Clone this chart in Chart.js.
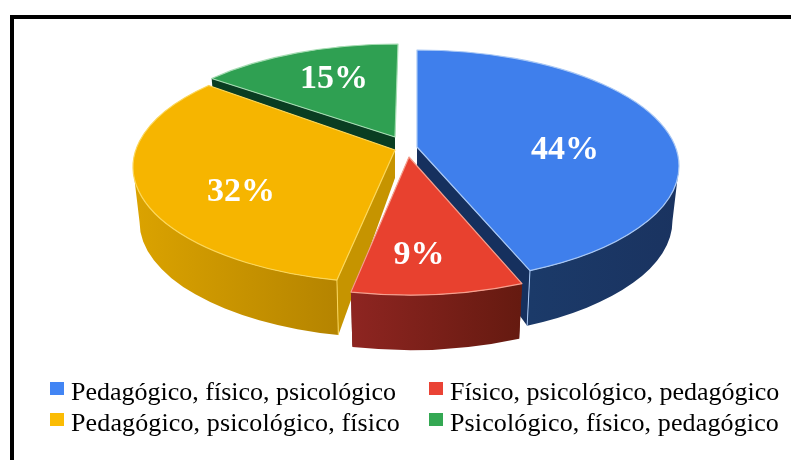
<!DOCTYPE html>
<html>
<head>
<meta charset="utf-8">
<script src="https://cdn.jsdelivr.net/npm/chart.js@4"></script>
<style>
html, body { margin: 0; padding: 0; background: #fff; overflow: hidden; }
#frame { position: absolute; left: 10px; top: 15px; right: 0; bottom: 0; border-left: 4px solid #000; border-top: 4px solid #000; }
#wrap { position: absolute; left: 0; top: 0; width: 791px; height: 460px; }
#legend { position: absolute; left: 0; top: 0; width: 791px; height: 460px; pointer-events: none; }
.item { position: absolute; white-space: nowrap; font-family: "Liberation Serif", serif; font-size: 26px; line-height: 28px; color: #000; }
.item:nth-child(n+3) { letter-spacing: 0.13px; }
.item i { position: absolute; left: 0; top: 2px; width: 14px; height: 13px; }
.item span { position: absolute; left: 21px; top: -2px; }
</style>
</head>
<body>
<div id="frame"></div>
<div id="wrap"><canvas id="pie" width="791" height="460"></canvas></div>
<div id="legend"></div>
<script>
const categories = [
    'Pedagógico, físico, psicológico',
    'Físico, psicológico, pedagógico',
    'Pedagógico, psicológico, físico',
    'Psicológico, físico, pedagógico'
];
const values = [44, 9, 32, 15];

const topColors = ['#3f7fec', '#e8412f', '#f6b500', '#2fa052'];
const legendColors = ['#4285f4', '#ea4335', '#fbbc04', '#34a853'];
const wallLeft = ['#1b3a69', '#8e2521', '#dba300', '#0f4a2a'];
const wallRight = ['#1a3360', '#651a10', '#b58400', '#0f4a2a'];
const cutColors = ['#16305e', '#651a10', '#c69400', '#0a3d22'];
const edgeColors = ['#a9c8f5', '#f6a08f', '#fbd75a', '#a5dcb2'];

// how far each slice is pulled out of the pie, and where its label sits
const explodeX = [21.5, 13.5, -0.5, 2.5];
const explodeY = [-14, -1, -13, -20];
const apexShift = [0, 0, 0, -3];
const apexLift = [19, 22, 17, 23];
const labelX = [148, 10, -154, -64];
const labelY = [-16, 76, 25, -81];
const legendX = [50, 429, 50, 429];
const legendY = [380, 380, 411, 411];

const squashX = 262 / 180;
const squashY = 116 / 180;
const depth = 55;
const apexDepth = 28;
const floorShrink = 0.975;
const paintOrder = [3, 2, 0, 1];

// the picture is in perspective, angles near the sides get pulled towards the back
function viewAngle(a) {
    const t = a + Math.PI / 2;
    return t - 0.187 * Math.sin(t) - Math.PI / 2;
}

function drawCut(ctx, ax, ay, x, y, fx, fy) {
    // a face that runs straight up the picture cannot be seen
    if (Math.abs(x - ax) < 5) return;
    ctx.beginPath();
    ctx.moveTo(ax, ay);
    ctx.lineTo(x, y);
    ctx.lineTo(fx, fy);
    ctx.lineTo(ax, ay + apexDepth);
    ctx.closePath();
    ctx.fill();
}

function drawSlice(ctx, arc, i) {
    const cx = arc.x + explodeX[i];
    const cy = arc.y + explodeY[i];
    const rx = arc.outerRadius * squashX;
    const ry = arc.outerRadius * squashY;
    const a0 = viewAngle(arc.startAngle);
    const a1 = viewAngle(arc.endAngle);
    const ax = cx + apexShift[i];
    const ay = cy - apexLift[i];
    const x0 = cx + rx * Math.cos(a0), y0 = cy + ry * Math.sin(a0);
    const x1 = cx + rx * Math.cos(a1), y1 = cy + ry * Math.sin(a1);
    const fx0 = cx + rx * floorShrink * Math.cos(a0), fy0 = cy + depth + ry * Math.sin(a0);
    const fx1 = cx + rx * floorShrink * Math.cos(a1), fy1 = cy + depth + ry * Math.sin(a1);

    ctx.fillStyle = cutColors[i];
    drawCut(ctx, ax, ay, x0, y0, fx0, fy0);
    drawCut(ctx, ax, ay, x1, y1, fx1, fy1);

    // outer wall, only the front half of the ellipse shows
    const w0 = Math.max(a0, 0);
    const w1 = Math.min(a1, Math.PI);
    if (w1 > w0) {
        const wall = ctx.createLinearGradient(cx + rx * Math.cos(w1), 0, cx + rx * Math.cos(w0), 0);
        wall.addColorStop(0, wallLeft[i]);
        wall.addColorStop(1, wallRight[i]);
        ctx.fillStyle = wall;
        ctx.beginPath();
        ctx.ellipse(cx, cy, rx, ry, 0, w0, w1);
        ctx.ellipse(cx, cy + depth, rx * floorShrink, ry, 0, w1, w0, true);
        ctx.closePath();
        ctx.fill();
    }

    // corner highlight, only where the slice faces the viewer
    if (i === 0 || i === 2) {
        ctx.strokeStyle = edgeColors[i];
        ctx.lineWidth = 1;
        ctx.beginPath();
        if (i === 0) {
            ctx.moveTo(x1, y1);
            ctx.lineTo(fx1, fy1);
        } else {
            ctx.moveTo(x0, y0);
            ctx.lineTo(fx0, fy0);
        }
        ctx.stroke();
    }

    // top face
    ctx.fillStyle = topColors[i];
    ctx.strokeStyle = edgeColors[i];
    ctx.lineWidth = 1.2;
    ctx.lineJoin = 'round';
    ctx.beginPath();
    ctx.moveTo(ax, ay);
    ctx.lineTo(x0, y0);
    ctx.ellipse(cx, cy, rx, ry, 0, a0, a1);
    ctx.closePath();
    ctx.fill();
    ctx.stroke();
}

const slicesPlugin = {
    id: 'slices3d',
    beforeDatasetsDraw(chart) {
        const ctx = chart.ctx;
        const arcs = chart.getDatasetMeta(0).data;
        ctx.save();
        paintOrder.forEach(function (i) {
            drawSlice(ctx, arcs[i], i);
        });
        ctx.fillStyle = '#fff';
        ctx.font = 'bold 34px "Liberation Serif", serif';
        ctx.textAlign = 'center';
        ctx.textBaseline = 'middle';
        values.forEach(function (v, i) {
            ctx.fillText(v + '%', arcs[i].x + explodeX[i] + labelX[i], arcs[i].y + explodeY[i] + labelY[i]);
        });
        ctx.restore();
        return false;
    }
};

new Chart(document.getElementById('pie'), {
    type: 'pie',
    data: {
        labels: categories,
        datasets: [{
            data: values,
            backgroundColor: topColors,
            borderWidth: 0
        }]
    },
    options: {
        responsive: false,
        animation: false,
        layout: { padding: { bottom: 100 } },
        plugins: {
            legend: { display: false },
            tooltip: { enabled: false }
        }
    },
    plugins: [slicesPlugin]
});

// leyenda en HTML
const legendBox = document.getElementById('legend');
categories.forEach(function (name, i) {
    const item = document.createElement('div');
    item.className = 'item';
    item.style.left = legendX[i] + 'px';
    item.style.top = legendY[i] + 'px';
    const box = document.createElement('i');
    box.style.background = legendColors[i];
    const text = document.createElement('span');
    text.textContent = name;
    item.appendChild(box);
    item.appendChild(text);
    legendBox.appendChild(item);
});
</script>
</body>
</html>
